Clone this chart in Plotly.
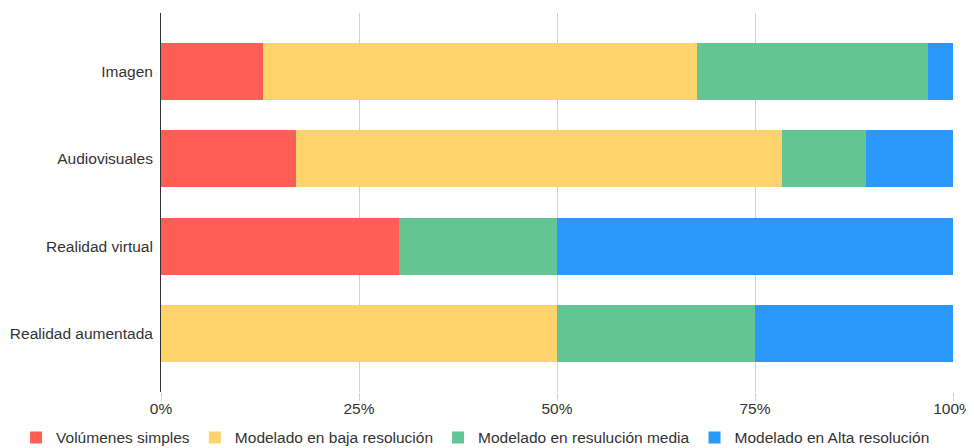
import plotly.graph_objects as go

categories = ["Imagen", "Audiovisuales", "Realidad virtual", "Realidad aumentada"]
series_names = ["Volúmenes simples", "Modelado en baja resolución",
                "Modelado en resulución media", "Modelado en Alta resolución"]
volumenes = [12.9, 17.0, 30.0, 0.0]
baja = [54.8, 61.4, 0.0, 50.0]
media = [29.1, 10.6, 20.0, 25.0]
alta = [3.2, 11.0, 50.0, 25.0]
tick_vals = [0, 25, 50, 75, 100]
tick_text = ["0%", "25%", "50%", "75%", "100%"]

colors = ["#FF5E57", "#FFD36B", "#64C594", "#2A98FC"]
values = [volumenes, baja, media, alta]

fig = go.Figure()
for name, vals, c in zip(series_names, values, colors):
    fig.add_trace(go.Bar(
        y=categories, x=vals, name=name, orientation="h",
        marker=dict(color=c, line=dict(width=0)), width=0.65,
        hovertemplate="%{y}: %{x}%<extra>" + name + "</extra>",
    ))

# page body has an 8px margin, so the figure is sized to the remaining viewport
fig.update_layout(
    barmode="stack",
    width=966, height=440,
    margin=dict(l=153, r=21, t=5, b=56, autoexpand=False),
    paper_bgcolor="white", plot_bgcolor="white",
    font=dict(family="Liberation Sans, Arial, sans-serif", size=15.5, color="#333333"),
    showlegend=True,
    legend=dict(orientation="h", xref="paper", yref="paper",
                x=-0.183, xanchor="left", y=-0.121, yanchor="middle",
                font=dict(size=15.5, color="#333333"), itemwidth=30,
                traceorder="normal", tracegroupgap=0,
                bgcolor="rgba(0,0,0,0)"),
    xaxis=dict(range=[0, 100], tickvals=tick_vals, ticktext=tick_text,
               showgrid=True, gridcolor="#d0d0d0", gridwidth=1,
               zeroline=False, showline=False,
               ticks="outside", ticklen=8, tickcolor="#d0d0d0",
               ticklabelstandoff=-6,
               tickfont=dict(size=15.5, color="#333333")),
    yaxis=dict(categoryorder="array", categoryarray=categories[::-1],
               range=[-0.667, 3.667], showgrid=False, zeroline=False,
               showline=True, linecolor="#333333", linewidth=1,
               ticks="", ticklabelstandoff=4,
               tickfont=dict(size=15.5, color="#333333")),
)

fig.write_html("out.html")
